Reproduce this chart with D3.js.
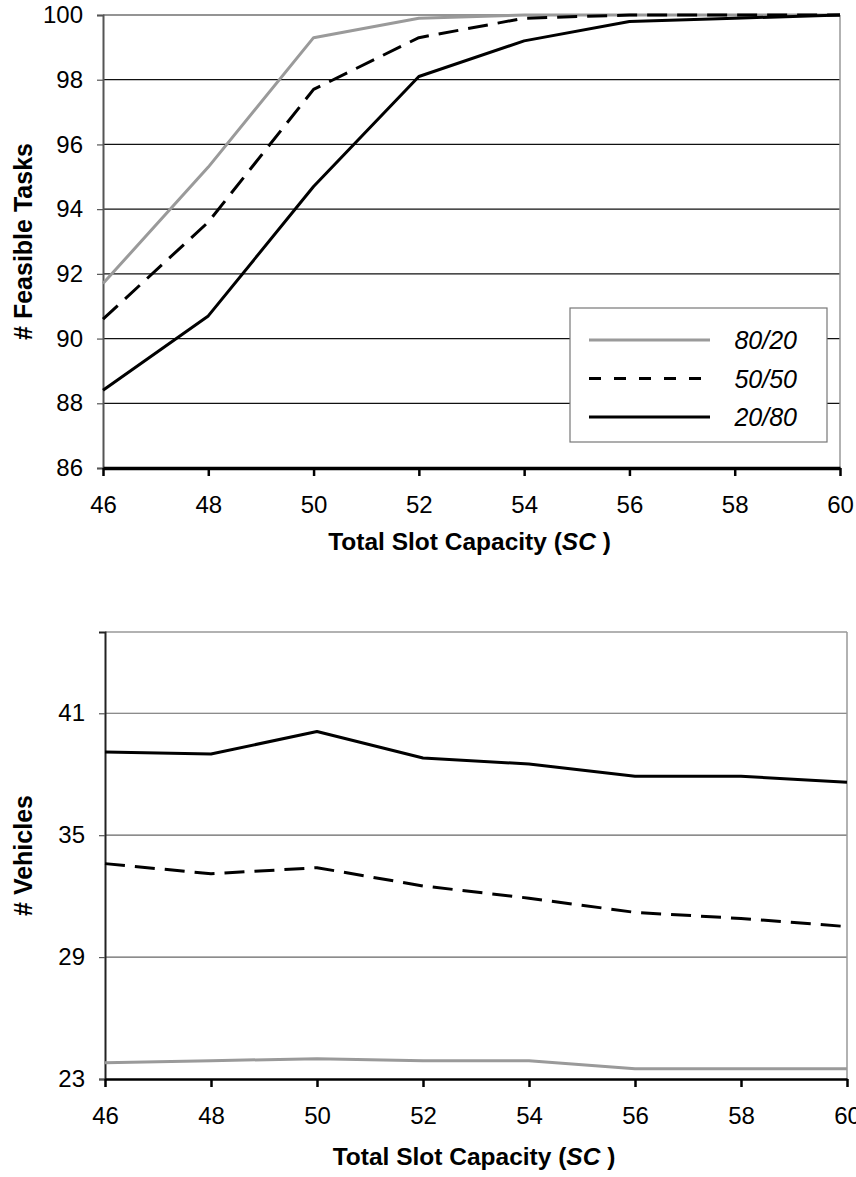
<!DOCTYPE html>
<html>
<head>
<meta charset="utf-8">
<script src="https://cdn.jsdelivr.net/npm/d3@7"></script>
<style>
  html, body { margin: 0; padding: 0; background: #fff; }
  svg { display: block; }
  text { font-family: "Liberation Sans", Arial, sans-serif; fill: #000; }
</style>
</head>
<body>
<svg id="chart" width="856" height="1177"></svg>
<script>
// ---- Data ----
const capacities = [46, 48, 50, 52, 54, 56, 58, 60];
const seriesNames = ["80/20", "50/50", "20/80"];

const feasible8020 = [91.7, 95.3, 99.3, 99.9, 100, 100, 100, 100];
const feasible5050 = [90.6, 93.6, 97.7, 99.3, 99.9, 100, 100, 100];
const feasible2080 = [88.4, 90.7, 94.7, 98.1, 99.2, 99.8, 99.9, 100];

const vehicles8020 = [23.8, 23.9, 24.0, 23.9, 23.9, 23.5, 23.5, 23.5];
const vehicles5050 = [33.6, 33.1, 33.4, 32.5, 31.9, 31.2, 30.9, 30.5];
const vehicles2080 = [39.1, 39.0, 40.1, 38.8, 38.5, 37.9, 37.9, 37.6];

const feasibleTicks = [86, 88, 90, 92, 94, 96, 98, 100];
const vehicleTicks = [23, 29, 35, 41];

// ---- Styles ----
const styles = {
  "80/20": { stroke: "#9a9a9a", dash: null, legendDash: null },
  "50/50": { stroke: "#000", dash: "20,10", legendDash: "12,13" },
  "20/80": { stroke: "#000", dash: null, legendDash: null }
};

const svg = d3.select("#chart");
const FONT = "'Liberation Sans', Arial, sans-serif";

function drawPanel(cfg) {
  const x = d3.scaleLinear().domain([46, 60]).range([cfg.left, cfg.right]);
  const y = d3.scaleLinear().domain(cfg.yDomain).range([cfg.bottom, cfg.top]);
  const g = svg.append("g");

  // gridlines
  g.append("g").selectAll("line")
    .data(cfg.yTicks.filter(v => v !== cfg.yDomain[0]))
    .join("line")
    .attr("x1", cfg.left).attr("x2", cfg.right)
    .attr("y1", d => y(d)).attr("y2", d => y(d))
    .attr("stroke", cfg.gridColor).attr("stroke-width", 1.2);

  // top border and right border
  g.append("line").attr("x1", cfg.left).attr("x2", cfg.right)
    .attr("y1", cfg.top).attr("y2", cfg.top)
    .attr("stroke", "#999").attr("stroke-width", 1.5);
  g.append("line").attr("x1", cfg.right).attr("x2", cfg.right)
    .attr("y1", cfg.top).attr("y2", cfg.bottom)
    .attr("stroke", "#999").attr("stroke-width", 1.5);

  // y axis
  const yAxis = d3.axisLeft(y).tickValues(cfg.yTicks).tickSize(6).tickPadding(14)
    .tickFormat(d3.format("d"));
  const ya = g.append("g").attr("transform", `translate(${cfg.left},0)`).call(yAxis);
  ya.select(".domain").attr("stroke", cfg.yAxisColor).attr("stroke-width", 2);
  ya.selectAll(".tick line").attr("stroke", "#555").attr("stroke-width", 1.2);
  ya.selectAll(".tick text").attr("font-size", 24)
    .attr("font-family", FONT).attr("fill", "#000");

  // x axis
  const xAxis = d3.axisBottom(x).tickValues(capacities).tickSize(8).tickPadding(20)
    .tickFormat(d3.format("d")).tickSizeOuter(0);
  const xa = g.append("g").attr("transform", `translate(0,${cfg.bottom})`).call(xAxis);
  xa.select(".domain").attr("stroke", "#000").attr("stroke-width", cfg.xAxisWidth);
  xa.selectAll(".tick line").attr("stroke", "#000").attr("stroke-width", 2.5);
  xa.selectAll(".tick text").attr("font-size", 24)
    .attr("font-family", FONT).attr("fill", "#000");

  // x title
  const xt = g.append("text")
    .attr("x", (cfg.left + cfg.right) / 2 - 2)
    .attr("y", cfg.bottom + cfg.xTitleOffset)
    .attr("text-anchor", "middle")
    .attr("font-size", 24.5).attr("font-weight", "bold");
  xt.append("tspan").text("Total Slot Capacity (");
  xt.append("tspan").attr("font-style", "italic").text("SC");
  xt.append("tspan").text(" )");

  // y title
  g.append("text")
    .attr("transform", `translate(32,${(cfg.top + cfg.bottom) / 2}) rotate(-90)`)
    .attr("text-anchor", "middle")
    .attr("font-size", 25).attr("font-weight", "bold")
    .text(cfg.yTitle);

  // lines
  const line = d3.line().x((d, i) => x(capacities[i])).y(d => y(d));
  cfg.series.forEach((vals, k) => {
    const st = styles[seriesNames[k]];
    g.append("path")
      .attr("d", line(vals))
      .attr("fill", "none")
      .attr("stroke", st.stroke)
      .attr("stroke-width", 3)
      .attr("stroke-linejoin", "round")
      .attr("stroke-dasharray", st.dash);
  });
  return { x, y, g };
}

drawPanel({
  left: 103, right: 840, top: 15, bottom: 468,
  yDomain: [86, 100], yTicks: feasibleTicks,
  gridColor: "#111", yAxisColor: "#555", xAxisWidth: 3.5,
  yTitle: "# Feasible Tasks", xTitleOffset: 82,
  series: [feasible8020, feasible5050, feasible2080]
});

drawPanel({
  left: 105, right: 847, top: 632, bottom: 1079,
  yDomain: [23, 45], yTicks: vehicleTicks,
  gridColor: "#666", yAxisColor: "#222", xAxisWidth: 2.5,
  yTitle: "# Vehicles", xTitleOffset: 86,
  series: [vehicles8020, vehicles5050, vehicles2080]
});

// ---- Legend (top panel) ----
const lg = svg.append("g");
lg.append("rect").attr("x", 570).attr("y", 308).attr("width", 257).attr("height", 134)
  .attr("fill", "#fff").attr("stroke", "#777").attr("stroke-width", 1.2);
seriesNames.forEach((name, i) => {
  const st = styles[name];
  const yy = 340 + i * 38.5;
  lg.append("line").attr("x1", 589).attr("x2", 710).attr("y1", yy).attr("y2", yy)
    .attr("stroke", st.stroke).attr("stroke-width", 3)
    .attr("stroke-dasharray", st.legendDash);
  lg.append("text").attr("x", 797).attr("y", yy + 9)
    .attr("text-anchor", "end").attr("font-size", 25).attr("font-style", "italic")
    .attr("fill", "#222").text(name);
});
</script>
</body>
</html>
